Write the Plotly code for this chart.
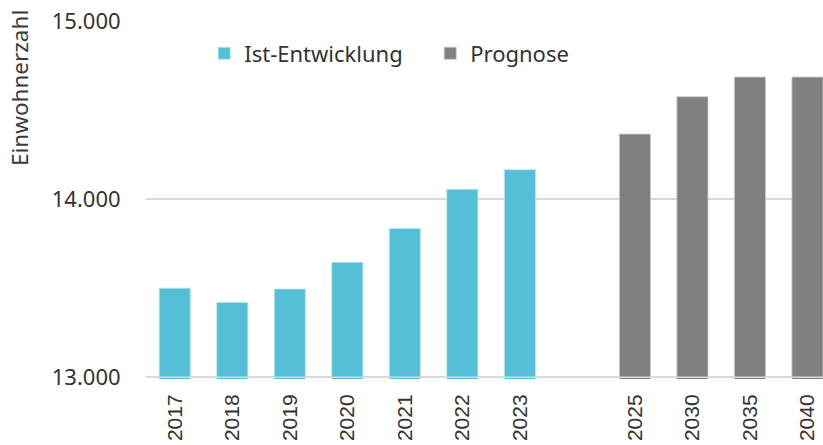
import plotly.graph_objects as go

# categories (blank slot separates history from forecast)
ist_years = ["2017", "2018", "2019", "2020", "2021", "2022", "2023"]
ist_values = [13500, 13420, 13495, 13645, 13835, 14055, 14165]
prog_years = ["2025", "2030", "2035", "2040"]
prog_values = [14365, 14575, 14685, 14685]
all_cats = ist_years + [" "] + prog_years

y_ticks = [13000, 14000, 15000]

CYAN = "#55BFD7"
GRAY = "#808080"

fig = go.Figure()
fig.add_trace(go.Bar(x=ist_years, y=ist_values, name="Ist-Entwicklung",
                     marker_color=CYAN, width=0.54,
                     marker_line=dict(color="#b8e3ee", width=0.8)))
fig.add_trace(go.Bar(x=prog_years, y=prog_values, name="Prognose",
                     marker_color=GRAY, width=0.54,
                     marker_line=dict(color="#c8c8c8", width=0.8)))

# baseline line drawn over the bars
fig.add_shape(type="line", xref="paper", yref="y", x0=0, x1=1, y0=13000, y1=13000,
              line=dict(color="#d9d9d9", width=1.5), layer="above")

fig.add_annotation(text="Einwohnerzahl", xref="paper", yref="paper",
                   x=-0.186, y=0.813, xanchor="center", yanchor="middle",
                   textangle=-90, showarrow=False,
                   font=dict(family="Noto Sans", size=22.5, color="#3a3a3a"))

fig.update_xaxes(type="category", categoryorder="array", categoryarray=all_cats,
                 range=[-0.5, 11.27], showgrid=False, showline=False,
                 tickangle=-90, ticks="outside", ticklen=6, tickcolor="rgba(0,0,0,0)",
                 tickfont=dict(family="Liberation Sans", size=21, color="#333333"))
fig.update_yaxes(range=[12990, 15000], tickvals=y_ticks, tickformat=",d",
                 showgrid=True, gridcolor="#d9d9d9", gridwidth=1.5, zeroline=False,
                 ticks="outside", ticklen=20, tickcolor="rgba(0,0,0,0)",
                 tickfont=dict(family="Noto Sans", size=22, color="#333333"))

fig.update_layout(width=823, height=445, separators=",.",
                  template="plotly_white", plot_bgcolor="white", paper_bgcolor="white",
                  margin={"l": 146, "r": 0, "t": 21, "b": 66},
                  barmode="overlay", showlegend=True,
                  legend=dict(orientation="h", x=0.086, y=0.968, xanchor="left", yanchor="top",
                              entrywidth=181, bgcolor="rgba(0,0,0,0)",
                              font=dict(family="Noto Sans", size=22, color="#333333")))

fig.write_html("out.html", config={"displayModeBar": False},
               post_script="document.body.style.margin='0';")
